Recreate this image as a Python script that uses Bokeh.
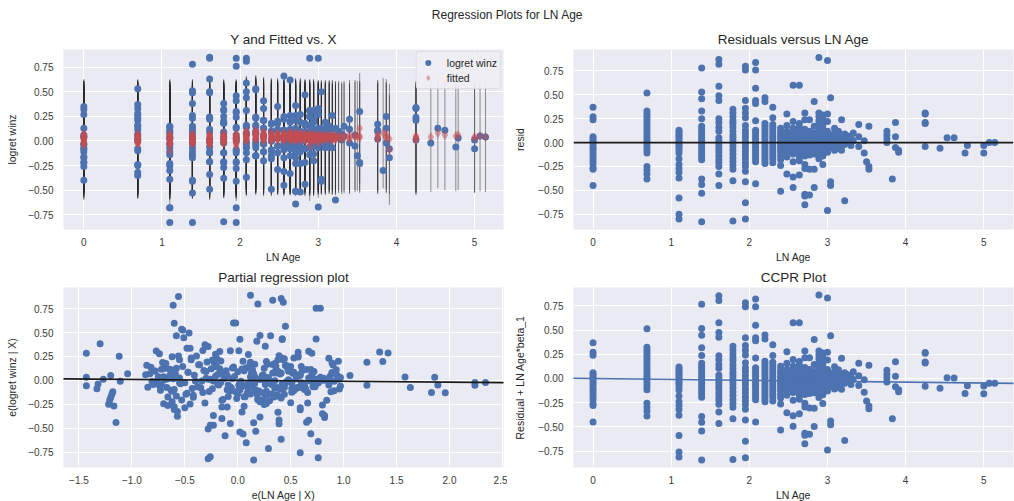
import numpy as np
from bokeh.plotting import figure
from bokeh.layouts import column, row
from bokeh.models import FixedTicker, Legend, LegendItem, Label, Span, Slope
from bokeh.embed import file_html
from bokeh.resources import INLINE

# ---------------------------------------------------------------------------
# Data: OLS of winsorised log return on LN Age (plus other regressors)
# ---------------------------------------------------------------------------
# distinct values of LN Age and the number of observations at each
age_levels = [0.00, 0.69, 1.10, 1.39, 1.61, 1.79, 1.95, 2.08, 2.20, 2.30,
              2.40, 2.48, 2.56, 2.64, 2.71, 2.77, 2.83, 2.89, 2.94, 3.00,
              3.04, 3.09, 3.14, 3.18, 3.22, 3.26, 3.30, 3.33, 3.40, 3.47,
              3.50, 3.53, 3.76, 3.83, 3.87, 3.91, 4.25, 4.44, 4.53, 4.62,
              4.76, 4.79, 5.00, 5.07, 5.14]
level_counts = [18, 21, 20, 22, 21, 20, 22, 19, 17, 16,
                13, 12, 14, 14, 16, 11, 11, 14, 13, 10,
                7, 6, 5, 5, 4, 2, 2, 2, 3, 2,
                1, 3, 4, 1, 3, 2, 5, 1, 1, 1,
                1, 1, 2, 1, 1]

# model residuals, grouped by LN Age level (same order as age_levels)
resid = [
    0.37, 0.27, 0.24, 0.06, 0.04, 0.02, 0.00, -0.02, -0.05, -0.07, -0.10, -0.13, -0.16, -0.19, -0.22, -0.26, -0.28, -0.45,
    0.52, 0.33, 0.30, 0.27, 0.24, 0.21, 0.18, 0.15, 0.12, 0.09, 0.06, 0.03, 0.01, -0.02, -0.05, -0.08, -0.11, -0.25, -0.29, -0.33, -0.38,
    0.13, 0.11, 0.09, 0.07, 0.05, 0.03, 0.01, -0.01, -0.03, -0.05, -0.08, -0.11, -0.17, -0.23, -0.27, -0.31, -0.37, -0.58, -0.75, -0.80,
    0.78, 0.53, 0.46, 0.33, 0.25, 0.17, 0.14, 0.11, 0.08, 0.05, 0.02, 0.00, -0.03, -0.06, -0.09, -0.12, -0.15, -0.18, -0.38, -0.44, -0.53, -0.83,
    0.87, 0.82, 0.59, 0.49, 0.44, 0.25, 0.21, 0.16, 0.12, 0.05, 0.02, -0.01, -0.04, -0.07, -0.10, -0.14, -0.18, -0.21, -0.25, -0.33, -0.45,
    0.35, 0.31, 0.27, 0.23, 0.20, 0.16, 0.12, 0.08, 0.05, 0.02, -0.01, -0.04, -0.08, -0.12, -0.16, -0.20, -0.24, -0.28, -0.40, -0.82,
    0.80, 0.76, 0.44, 0.36, 0.31, 0.26, 0.18, 0.13, 0.09, 0.05, 0.01, -0.02, -0.05, -0.09, -0.13, -0.17, -0.21, -0.25, -0.30, -0.41, -0.63, -0.80,
    0.84, 0.76, 0.57, 0.44, 0.41, 0.23, 0.13, 0.10, 0.07, 0.04, 0.01, -0.02, -0.05, -0.08, -0.11, -0.14, -0.17, -0.20, -0.43,
    0.47, 0.43, 0.20, 0.17, 0.14, 0.11, 0.08, 0.05, 0.02, -0.01, -0.04, -0.07, -0.10, -0.13, -0.16, -0.19, -0.22,
    0.37, 0.26, 0.19, 0.16, 0.13, 0.10, 0.07, 0.04, 0.01, -0.02, -0.05, -0.08, -0.11, -0.14, -0.17, -0.21,
    0.15, 0.11, 0.08, 0.05, 0.02, -0.01, -0.04, -0.07, -0.10, -0.14, -0.18, -0.24, -0.51,
    0.30, 0.18, 0.12, 0.08, 0.05, 0.02, -0.01, -0.04, -0.07, -0.10, -0.15, -0.33,
    0.60, 0.22, 0.15, 0.10, 0.06, 0.03, 0.00, -0.03, -0.06, -0.09, -0.12, -0.20, -0.36, -0.47,
    0.60, 0.20, 0.16, 0.12, 0.08, 0.04, 0.01, -0.02, -0.05, -0.08, -0.11, -0.15, -0.19, -0.34,
    0.31, 0.24, 0.14, 0.09, 0.05, 0.02, -0.01, -0.04, -0.07, -0.10, -0.14, -0.23, -0.27, -0.54, -0.56, -0.65,
    0.24, 0.12, 0.08, 0.04, 0.01, -0.02, -0.05, -0.09, -0.13, -0.28, -0.55,
    0.43, 0.17, 0.10, 0.06, 0.02, -0.01, -0.04, -0.08, -0.12, -0.28, -0.47,
    0.89, 0.31, 0.27, 0.23, 0.19, 0.15, 0.11, 0.07, 0.03, 0.00, -0.03, -0.07, -0.12, -0.17,
    0.29, 0.25, 0.21, 0.17, 0.13, 0.09, 0.05, 0.02, -0.01, -0.05, -0.09, -0.14, -0.23,
    0.86, 0.30, 0.22, 0.12, 0.06, 0.02, -0.02, -0.06, -0.10, -0.71,
    0.47, 0.08, 0.03, -0.01, -0.05, -0.41, -0.45,
    0.15, 0.10, 0.04, 0.00, -0.04, -0.08,
    0.12, 0.06, 0.01, -0.03, -0.06,
    0.24, 0.07, 0.02, -0.02, -0.08,
    0.09, 0.03, -0.02, -0.61,
    0.07, 0.01,
    0.05, -0.03,
    0.10, 0.02,
    0.19, 0.06, -0.04,
    0.02, -0.11,
    -0.20,
    0.17, -0.25, -0.28,
    0.12, 0.08, 0.04, 0.00,
    -0.38,
    0.21, 0.06, -0.05,
    -0.08, -0.10,
    0.31, 0.30, 0.21, 0.20, -0.04,
    -0.06,
    0.05,
    0.05,
    -0.11,
    -0.03,
    -0.03, -0.11,
    0.00,
    0.00,
]

# fitted values of the full model for the same observations
fitted = [
    -0.02, 0.05, 0.03, 0.07, 0.00, 0.04, -0.03, 0.06, 0.01, -0.04, 0.02, 0.05, -0.01, 0.03, 0.00, 0.04, 0.02, 0.05,
    0.01, 0.04, -0.02, 0.06, 0.02, 0.00, 0.05, -0.03, 0.03, 0.07, 0.01, -0.01, 0.04, 0.02, 0.06, -0.02, 0.03, 0.00, 0.05, 0.01, 0.03,
    0.02, -0.03, 0.05, 0.01, 0.06, -0.01, 0.03, 0.04, -0.04, 0.02, 0.05, 0.00, 0.03, -0.02, 0.04, 0.01, -0.02, -0.10, 0.07, -0.03,
    0.00, -0.02, 0.03, 0.05, 0.01, 0.06, -0.01, 0.04, 0.02, -0.03, 0.05, 0.03, 0.00, 0.07, 0.02, -0.02, 0.04, 0.01, -0.02, 0.03, 0.00, 0.00,
    -0.02, 0.02, 0.04, 0.01, 0.05, -0.01, 0.03, 0.06, 0.00, 0.04, -0.03, 0.02, 0.05, 0.01, -0.02, 0.03, 0.06, 0.00, 0.04, -0.01, -0.04,
    0.03, 0.00, 0.05, 0.02, -0.02, 0.04, 0.06, 0.01, 0.03, -0.01, 0.05, 0.02, 0.07, 0.00, 0.04, -0.02, 0.03, 0.01, 0.02, 0.00,
    0.04, 0.00, 0.02, 0.05, -0.01, 0.03, 0.06, 0.01, 0.04, -0.02, 0.05, 0.02, 0.07, 0.00, 0.03, 0.05, -0.01, 0.04, 0.02, 0.00, -0.05, -0.03,
    0.00, 0.05, 0.02, 0.06, 0.03, 0.08, 0.01, 0.05, 0.09, 0.03, 0.06, 0.10, 0.02, 0.07, 0.04, 0.08, 0.05, 0.01, 0.06,
    0.06, 0.09, 0.03, 0.07, 0.10, 0.04, 0.08, 0.02, 0.06, 0.11, 0.05, 0.03, 0.08, 0.06, 0.01, 0.04, 0.07,
    0.04, 0.07, 0.02, 0.05, 0.08, 0.03, 0.06, 0.00, 0.04, 0.07, 0.02, 0.05, 0.09, 0.03, 0.06, 0.01,
    0.03, 0.06, 0.01, 0.05, 0.08, 0.02, 0.04, 0.07, 0.00, 0.05, 0.03, 0.06, 0.02,
    0.05, 0.02, 0.06, 0.03, 0.07, 0.01, 0.04, 0.08, 0.02, 0.05, 0.03, 0.04,
    0.06, 0.03, 0.07, 0.01, 0.05, 0.08, 0.02, 0.06, 0.04, 0.00, 0.07, 0.03, 0.05, 0.02,
    0.02, 0.06, 0.03, 0.08, 0.04, 0.01, 0.07, 0.05, 0.02, 0.06, 0.03, 0.09, 0.04, 0.01,
    0.05, 0.02, 0.07, 0.04, 0.00, 0.06, 0.03, 0.08, 0.01, 0.05, 0.02, 0.06, 0.04, 0.03, 0.05, 0.01,
    0.03, 0.07, 0.02, 0.05, 0.08, 0.01, 0.06, 0.04, 0.02, 0.05, 0.03,
    0.04, 0.01, 0.06, 0.03, 0.07, 0.02, 0.05, 0.00, 0.04, 0.06, 0.03,
    -0.05, 0.00, 0.04, 0.02, 0.06, 0.01, 0.05, 0.03, 0.07, 0.02, 0.04, 0.00, 0.06, 0.03,
    0.02, 0.05, 0.01, 0.04, 0.06, 0.03, 0.00, 0.05, 0.02, 0.07, 0.04, 0.01, 0.03,
    -0.02, 0.03, 0.05, 0.01, 0.04, 0.06, 0.02, 0.05, 0.03, 0.04,
    0.03, 0.05, 0.01, 0.06, 0.03, 0.02, 0.04,
    0.04, 0.02, 0.06, 0.03, 0.05, 0.01,
    0.03, 0.06, 0.02, 0.05, 0.04,
    0.02, 0.05, 0.03, 0.06, 0.01,
    0.04, 0.02, 0.05, 0.01,
    0.03, 0.05,
    0.02, 0.04,
    0.05, 0.03,
    0.03, 0.06, 0.02,
    0.04, 0.06,
    0.05,
    0.13, 0.03, 0.05,
    0.05, 0.03, 0.06, 0.02,
    0.08,
    0.04, 0.07, 0.03,
    -0.09, 0.02,
    0.02, 0.04, 0.03, 0.01, 0.05,
    0.04,
    0.08,
    0.06,
    0.05,
    0.06,
    0.04, 0.03,
    0.05,
    0.04,
]

# e(LN Age | X): LN Age purged of the other regressors, same observations
partial_x = [
    -1.30, -1.43, -1.12, -1.04, -1.20, -1.43, -1.27, -1.11, -1.32, -1.43, -1.33, -1.18, -1.19, -1.20, -1.21, -1.22, -1.17, -1.15,
    -0.52, -0.48, -0.77, -0.74, -0.62, -0.55, -0.71, -0.86, -0.68, -0.79, -0.83, -0.75, -0.66, -0.81, -0.72, -0.85, -0.63, -0.70, -0.50, -0.57, -0.57,
    -0.82, -0.64, -0.78, -0.59, -0.87, -0.70, -0.61, -0.76, -0.55, -0.80, -0.67, -0.73, -0.58, -0.62, -0.66, -0.60, -0.23, -0.12, 0.59, -0.26,
    -0.61, -0.53, -0.58, -0.45, -0.56, -0.68, -0.52, -0.72, -0.47, -0.64, -0.55, -0.69, -0.50, -0.74, -0.43, -0.62, -0.49, -0.66, 0.21, 0.15, 0.17, 0.15,
    -0.56, 0.43, -0.60, -0.46, -0.51, -0.39, -0.44, -0.36, -0.58, -0.41, -0.65, -0.34, -0.54, -0.38, -0.60, -0.48, -0.42, -0.53, -0.45, 0.38, -0.07,
    -0.28, -0.33, -0.21, -0.44, -0.16, -0.37, -0.25, -0.47, -0.12, -0.30, -0.40, -0.19, -0.35, -0.27, -0.42, -0.14, -0.31, -0.15, -0.15, -0.28,
    0.19, 0.74, 0.74, 0.26, 0.67, 0.57, -0.22, -0.05, -0.30, -0.12, -0.26, 0.02, -0.18, -0.08, -0.33, 0.06, -0.15, 0.25, 0.59, 0.39, 0.76, 0.76,
    0.33, 0.78, 0.45, 0.42, 0.18, -0.20, 0.08, -0.11, 0.15, -0.03, 0.22, -0.16, 0.11, -0.06, 0.27, 0.00, -0.09, 0.19, 0.65,
    0.31, 0.42, 0.05, 0.28, -0.04, 0.36, 0.13, -0.10, 0.24, 0.03, 0.32, -0.07, 0.17, 0.09, 0.38, -0.01, 0.21,
    -0.31, 0.39, 0.12, 0.45, 0.25, 0.06, 0.40, 0.16, 0.48, 0.29, 0.10, 0.35, 0.20, 0.44, 0.07, 0.30,
    0.50, 0.14, 0.33, 0.57, 0.23, 0.46, 0.09, 0.37, 0.53, 0.18, 0.41, 0.27, -0.28,
    -0.17, 0.35, 0.06, 0.41, 0.23, -0.13, 0.32, 0.14, 0.44, 0.02, 0.27, 0.04,
    -0.04, 0.43, 0.11, 0.38, -0.19, 0.29, 0.48, 0.16, 0.05, -0.24, 0.51, 0.24, 0.82, -0.23,
    -0.02, 0.27, 0.46, -0.17, 0.52, 0.12, -0.28, 0.30, 0.01, 0.55, -0.07, 0.37, 0.19, 0.80,
    -0.07, 0.41, -0.20, 0.53, 0.14, -0.05, 0.47, 0.26, 0.58, -0.10, 0.32, 0.50, 0.06, 0.02, 0.05, 0.08,
    0.53, 0.04, 0.36, -0.21, 0.19, 0.60, -0.09, 0.63, 0.24, -0.10, 0.69,
    0.02, 0.16, -0.32, 0.59, 0.27, -0.23, 0.44, 0.10, 0.66, -0.60, -0.26,
    0.12, 0.01, 0.10, 0.44, -0.29, 0.36, 0.61, -0.15, 0.28, 0.68, 0.13, 0.56, -0.02, 0.34,
    0.70, 0.57, -0.24, 0.33, 0.47, 0.00, 0.24, -0.12, 0.49, 0.63, 0.40, 0.12, 0.66,
    0.41, 0.57, 0.38, 0.69, 0.24, 0.55, 0.45, 0.71, 0.16, 0.29,
    0.21, 0.53, 0.67, 0.32, 0.60, 0.67, 0.39,
    0.60, 0.48, 0.78, 0.35, 0.72, 0.51,
    0.65, 0.57, 0.80, 0.42, 0.73,
    0.86, 0.59, 0.73, 0.51, 0.64,
    0.89, 0.81, 0.76, 0.41,
    0.70, 0.83,
    0.87, 0.62,
    0.72, 0.85,
    0.89, 0.94, 0.86,
    0.95, 0.88,
    0.84,
    0.90, 0.80, 0.59,
    0.93, 0.89, 0.97, 0.91,
    0.82,
    0.95, 1.06, 0.97,
    0.96, 0.91,
    1.34, 1.42, 1.37, 1.22, 1.22,
    1.63,
    1.58,
    1.86,
    1.96,
    1.89,
    2.24, 1.83,
    2.24,
    2.34,
]

beta_ln_age = -0.0095     # coefficient on LN Age
pred_halfwidth = 0.56     # half-width of the prediction interval

# ---------------------------------------------------------------------------
ln_age = np.repeat(np.array(age_levels), level_counts)
res = np.array(resid)
fit = np.array(fitted)
ex = np.array(partial_x)
assert len(ln_age) == len(res) == len(fit) == len(ex), (len(ln_age), len(res), len(fit), len(ex))

logret = res + fit                      # observed winsorised log return
ccpr_y = res + beta_ln_age * ln_age     # component + residual
partial_y = res + beta_ln_age * ex      # e(logret winz | X)

FONT = "Liberation Sans"
BG = "#EAEAF2"
BLUE = "#4C72B0"
RED = "#C44E52"
TXT = "#262626"
TICK_TXT = "#3a3a3a"

Y_TICKS = [-0.75, -0.5, -0.25, 0.0, 0.25, 0.5, 0.75]


def fmt(v, nd):
    s = f"{v:.{nd}f}"
    return s.replace("-", "\u2212")


def panel(title, x_range, y_range, xticks, xnd, xlabel, ylabel,
          left, right, top, bottom, ylab_standoff):
    p = figure(title=title, x_range=x_range, y_range=y_range,
               frame_width=440, frame_height=180,
               min_border_left=left, min_border_right=right,
               min_border_top=top, min_border_bottom=bottom,
               output_backend="svg", toolbar_location=None,
               background_fill_color=BG, border_fill_color="white",
               outline_line_color=None)
    p.title.text_font = FONT
    p.title.text_font_size = "13.5px"
    p.title.text_font_style = "normal"
    p.title.text_color = TXT
    p.title.align = "center"
    p.title.standoff = 5

    p.xaxis.ticker = FixedTicker(ticks=xticks)
    p.xaxis.major_label_overrides = {t: fmt(t, xnd) for t in xticks}
    p.yaxis.ticker = FixedTicker(ticks=Y_TICKS)
    p.yaxis.major_label_overrides = {t: fmt(t, 2) for t in Y_TICKS}

    for ax in (p.xaxis[0], p.yaxis[0]):
        ax.axis_line_color = None
        ax.major_tick_line_color = None
        ax.minor_tick_line_color = None
        ax.major_tick_in = 0
        ax.major_tick_out = 0
        ax.major_label_text_font = FONT
        ax.major_label_text_font_size = "10px"
        ax.major_label_text_color = TICK_TXT
        ax.axis_label_text_font = FONT
        ax.axis_label_text_font_size = "10.5px"
        ax.axis_label_text_font_style = "normal"
        ax.axis_label_text_color = TXT
    p.xaxis.axis_label = xlabel
    p.yaxis.axis_label = ylabel
    p.xaxis.major_label_standoff = 8
    p.xaxis.axis_label_standoff = 2
    p.yaxis.major_label_standoff = 10
    p.yaxis.axis_label_standoff = ylab_standoff

    p.grid.grid_line_color = "white"
    p.grid.grid_line_width = 1
    return p


AGE_TICKS = [0, 1, 2, 3, 4, 5]

# --- Y and fitted vs X ------------------------------------------------------
p1 = panel("Y and Fitted vs. X", (-0.26, 5.37), (-0.90, 0.93), AGE_TICKS, 0,
           "LN Age", "logret winz", 63, 4, 25, 36, 7)
# prediction intervals
p1.segment(ln_age, fit - pred_halfwidth, ln_age, fit + pred_halfwidth,
           line_color="#2a2a2a", line_alpha=0.5, line_width=1)
r_obs = p1.scatter(ln_age, logret, size=7, color=BLUE, line_color=None)
r_fit = p1.scatter(ln_age, fit, marker="diamond", size=10,
                   fill_color=RED, fill_alpha=0.5, line_color=None)
leg = Legend(items=[LegendItem(label="logret winz", renderers=[r_obs]),
                    LegendItem(label="fitted", renderers=[r_fit])],
             location="top_right", margin=2, padding=3, spacing=-1,
             glyph_width=16, glyph_height=15, label_height=15,
             label_standoff=11, label_text_font=FONT,
             label_text_font_size="10.5px", label_text_color=TXT,
             label_text_baseline="middle",
             background_fill_color="#EEEEF4", background_fill_alpha=0.9,
             border_line_color="#d0d0d0", border_line_width=1,
             border_radius=3)
p1.add_layout(leg)

# --- residuals versus LN Age ----------------------------------------------
p2 = panel("Residuals versus LN Age", (-0.25, 5.38), (-0.91, 0.975), AGE_TICKS, 0,
           "LN Age", "resid", 66, 1, 25, 36, 9)
p2.scatter(ln_age, res, size=7, color=BLUE, line_color=None)
p2.add_layout(Span(location=0, dimension="width", line_color="#1a1a1a", line_width=1.6))

# --- partial regression plot ----------------------------------------------
PART_TICKS = [-1.5, -1.0, -0.5, 0.0, 0.5, 1.0, 1.5, 2.0, 2.5]
p3 = panel("Partial regression plot", (-1.646, 2.51), (-0.91, 0.97), PART_TICKS, 1,
           "e(LN Age | X)", "e(logret winz | X)", 63, 4, 20, 36, 7)
p3.scatter(ex, partial_y, size=7, color=BLUE, line_color=None)
p3.add_layout(Slope(gradient=beta_ln_age, y_intercept=0, line_color="#1a1a1a", line_width=1.6))

# --- CCPR plot --------------------------------------------------------------
p4 = panel("CCPR Plot", (-0.25, 5.38), (-0.92, 0.94), AGE_TICKS, 0,
           "LN Age", "Residual + LN Age*beta_1", 66, 1, 20, 36, 9)
p4.scatter(ln_age, ccpr_y, size=7, color=BLUE, line_color=None)
p4.add_layout(Slope(gradient=beta_ln_age, y_intercept=0, line_color=BLUE, line_width=1.6))

# --- overall heading ----------------------------------------------------------
head = figure(width=1014, height=24, x_range=(0, 1), y_range=(0, 1),
              x_axis_type=None, y_axis_type=None, title=None,
              min_border=0, outline_line_color=None,
              output_backend="svg", toolbar_location=None,
              background_fill_color="white", border_fill_color="white")
head.grid.visible = False
head.add_layout(Label(x=0.5, y=10 / 24, text="Regression Plots for LN Age",
                      text_font=FONT, text_font_size="12px", text_color=TXT,
                      text_align="center", text_baseline="middle"))

layout = column(head, row(p1, p2), row(p3, p4))

with open("out.html", "w") as f:
    f.write(file_html(layout, INLINE))
